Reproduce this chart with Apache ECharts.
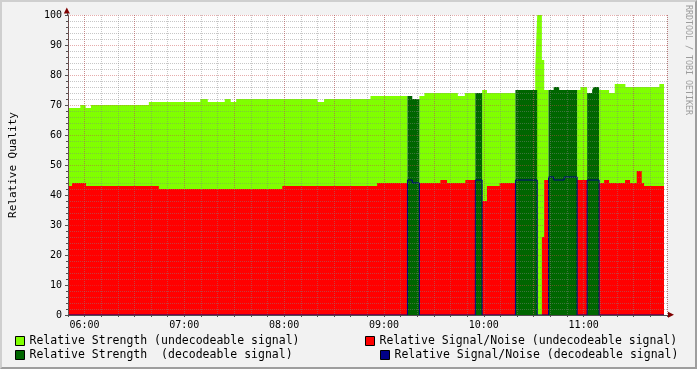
<!DOCTYPE html>
<html><head><meta charset="utf-8">
<script src="https://cdn.jsdelivr.net/npm/echarts@6/dist/echarts.min.js"></script>
<style>
html,body{margin:0;padding:0;background:#F2F2F2;}
#wrap{position:relative;width:697px;height:369px;overflow:hidden;}
#chart{width:697px;height:369px;}
#frame{position:absolute;left:0;top:0;width:697px;height:369px;box-sizing:border-box;border-top:2px solid #CFCFCF;border-left:2px solid #CFCFCF;border-right:2px solid #9E9E9E;border-bottom:2px solid #9E9E9E;pointer-events:none;}
</style></head>
<body><div id="wrap"><div id="chart"></div><div id="frame"></div></div>
<script>
// ---- data ----
const timeRange = ['05:50:06', '11:50:06'];
const hourLabels = ['06:00', '07:00', '08:00', '09:00', '10:00', '11:00'];
const seriesNames = [
  'Relative Strength (undecodeable signal)',
  'Relative Strength  (decodeable signal)',
  'Relative Signal/Noise (undecodeable signal)',
  'Relative Signal/Noise (decodeable signal)'
];
// [time, value] change points (value held until next point)
const strengthUndecodeable = [
  ['05:50:06',69],['05:57:30',70],['06:00:42',69],['06:03:54',70],['06:38:42',71],['07:09:36',72],
  ['07:14:06',71],['07:24:18',72],['07:27:54',71],['07:31:12',72],['08:20:06',71],['08:24:00',72],
  ['08:51:54',73],['09:14:06',0],['09:21:18',73],['09:24:18',74],['09:44:24',73],['09:48:36',74],
  ['09:54:54',0],['09:59:00',75],['10:01:54',74],['10:19:00',0],['10:30:54',82],['10:32:06',100],
  ['10:34:54',85],['10:36:18',75],['10:38:54',0],['10:56:06',75],['10:58:06',76],['11:02:06',0],
  ['11:09:18',75],['11:15:18',74],['11:18:42',77],['11:25:06',76],['11:45:30',77],['11:48:18',77]
];
const snrUndecodeable = [
  ['05:50:06',43],['05:52:30',44],['06:00:54',43],['06:44:42',42],['07:58:54',43],['08:55:54',44],
  ['09:14:06',0],['09:21:18',44],['09:33:54',45],['09:37:54',44],['09:48:54',45],['09:54:54',0],
  ['09:59:00',38],['10:01:54',43],['10:09:30',44],['10:19:00',0],['10:34:54',26],['10:36:18',45],
  ['10:38:54',0],['10:56:06',45],['11:02:06',0],['11:09:18',44],['11:12:18',45],['11:15:18',44],
  ['11:24:54',45],['11:27:54',44],['11:31:54',48],['11:34:54',44],['11:36:18',43],['11:48:18',43]
];
const strengthDecodeable = [
  ['05:50:06',0],['09:14:06',73],['09:17:00',72],['09:21:18',0],['09:54:54',74],['09:59:00',0],
  ['10:19:00',75],['10:32:06',0],['10:38:54',75],['10:42:00',76],['10:45:18',75],['10:56:06',0],
  ['11:02:06',74],['11:05:06',75],['11:06:06',76],['11:09:18',0],['11:48:18',0]
];
const snrDecodeable = [
  ['05:50:06',0],['09:14:06',45],['09:17:00',44],['09:21:18',0],['09:54:54',45],['09:59:00',0],
  ['10:19:00',45],['10:32:06',0],['10:38:54',46],['10:42:00',45],['10:48:18',46],['10:56:06',0],
  ['11:02:06',45],['11:09:18',0],['11:48:18',0]
];

// ---- helpers ----
const toTime = s => { const p = s.split(':').map(Number); return Date.UTC(2024, 0, 1, p[0], p[1], p[2] || 0); };
const conv = arr => arr.map(d => [toTime(d[0]), d[1]]);
const pad = n => (n < 10 ? '0' : '') + n;
const fmtHM = v => { const d = new Date(v); return pad(d.getUTCHours()) + ':' + pad(d.getUTCMinutes()); };

const mono = 'DejaVu Sans Mono';
const cLight = '#80FF00', cRed = '#FF0000', cDark = '#006600', cBlue = '#000088';
const axisCol = '#505050';
const gridMinor = { color: 'rgba(130,130,130,0.45)', type: [1, 1], width: 1 };
const gridMajor = { color: 'rgba(200,70,70,0.45)', type: [1, 1], width: 1 };
const xMin = toTime(timeRange[0]), xMax = toTime(timeRange[1]);

const chart = echarts.init(document.getElementById('chart'), null, { renderer: 'canvas' });
const legendCommon = {
  orient: 'horizontal', padding: 0, itemWidth: 9, itemHeight: 9, itemGap: 0, icon: 'rect',
  itemStyle: { borderColor: '#000', borderWidth: 1 },
  textStyle: { fontFamily: mono, fontSize: 11.5, color: '#000', lineHeight: 12 },
  selectedMode: false
};
const option = {
  useUTC: true,
  animation: false,
  backgroundColor: '#F2F2F2',
  grid: { left: 67, top: 15, width: 600, height: 300, show: true, backgroundColor: '#FFFFFF', borderWidth: 0 },
  xAxis: [
    { type: 'time', min: xMin, max: xMax, position: 'bottom', z: 5,
      minInterval: 5400000, maxInterval: 5400000,
      axisLine: { show: true, onZero: false, lineStyle: { color: axisCol } },
      axisTick: { show: false },
      splitLine: { show: false },
      axisLabel: { fontFamily: mono, fontSize: 10, color: '#000', margin: 5, showMinLabel: false, showMaxLabel: false,
        formatter: v => { const s = fmtHM(v); return hourLabels.indexOf(s) >= 0 ? s : ''; } } },
    { type: 'time', min: xMin, max: xMax, position: 'bottom', z: 5,
      minInterval: 720000, maxInterval: 720000,
      axisLine: { show: false }, axisLabel: { show: false },
      axisTick: { show: true, length: 2, lineStyle: { color: axisCol } },
      splitLine: { show: true, lineStyle: gridMinor } },
    { type: 'time', min: xMin, max: xMax, position: 'bottom', z: 6,
      minInterval: 2400000, maxInterval: 2400000,
      axisLine: { show: false }, axisLabel: { show: false }, axisTick: { show: false },
      splitLine: { show: true, lineStyle: gridMajor } }
  ],
  yAxis: {
    type: 'value', min: 0, max: 100, interval: 10, z: 5,
    axisLine: { show: true, lineStyle: { color: axisCol } },
    axisTick: { show: true, length: 3, lineStyle: { color: axisCol } },
    minorTick: { show: true, splitNumber: 5, length: 2, lineStyle: { color: axisCol } },
    splitLine: { show: true, lineStyle: gridMajor },
    minorSplitLine: { show: true, lineStyle: gridMinor },
    axisLabel: { fontFamily: mono, fontSize: 10, color: '#000', margin: 6 },
    name: 'Relative Quality', nameLocation: 'middle', nameGap: 49,
    nameTextStyle: { fontFamily: mono, fontSize: 11, color: '#000' }
  },
  legend: [
    Object.assign({ data: [seriesNames[0]], left: 15, top: 335 }, legendCommon),
    Object.assign({ data: [seriesNames[2]], left: 365, top: 335 }, legendCommon),
    Object.assign({ data: [seriesNames[1]], left: 15, top: 349 }, legendCommon),
    Object.assign({ data: [seriesNames[3]], left: 380, top: 349 }, legendCommon)
  ],
  graphic: [
    { type: 'polygon', z: 100, shape: { points: [[63.8, 13.5], [69.8, 13.5], [66.8, 7.5]] }, style: { fill: '#7F0000' } },
    { type: 'line', z: 100, shape: { x1: 67.5, y1: 15, x2: 67.5, y2: 13 }, style: { stroke: axisCol, lineWidth: 1 } },
    { type: 'polygon', z: 100, shape: { points: [[668, 311.8], [668, 317.8], [674, 314.8]] }, style: { fill: '#7F0000' } },
    { type: 'line', z: 100, shape: { x1: 667, y1: 315.5, x2: 668, y2: 315.5 }, style: { stroke: axisCol, lineWidth: 1 } },
    { type: 'text', z: 100, x: 688.5, y: 5, rotation: -Math.PI / 2,
      style: { text: 'RRDTOOL / TOBI OETIKER', fontFamily: mono, fontSize: 8.3, fill: '#9C9C9C', align: 'left', verticalAlign: 'middle' } }
  ],
  series: [
    { name: seriesNames[0], type: 'line', step: 'end', data: conv(strengthUndecodeable), symbol: 'none', showSymbol: false,
      lineStyle: { width: 0 }, itemStyle: { color: cLight }, areaStyle: { color: cLight, opacity: 1 }, z: 1 },
    { name: seriesNames[2], type: 'line', step: 'end', data: conv(snrUndecodeable), symbol: 'none', showSymbol: false,
      lineStyle: { width: 0 }, itemStyle: { color: cRed }, areaStyle: { color: cRed, opacity: 1 }, z: 2 },
    { name: seriesNames[1], type: 'line', step: 'end', data: conv(strengthDecodeable), symbol: 'none', showSymbol: false,
      lineStyle: { width: 0 }, itemStyle: { color: cDark }, areaStyle: { color: cDark, opacity: 1 }, z: 3 },
    { name: seriesNames[3], type: 'line', step: 'end', data: conv(snrDecodeable), symbol: 'none', showSymbol: false,
      lineStyle: { width: 1, color: cBlue }, itemStyle: { color: cBlue }, z: 4 }
  ]
};
chart.setOption(option);
</script>
</body></html>
